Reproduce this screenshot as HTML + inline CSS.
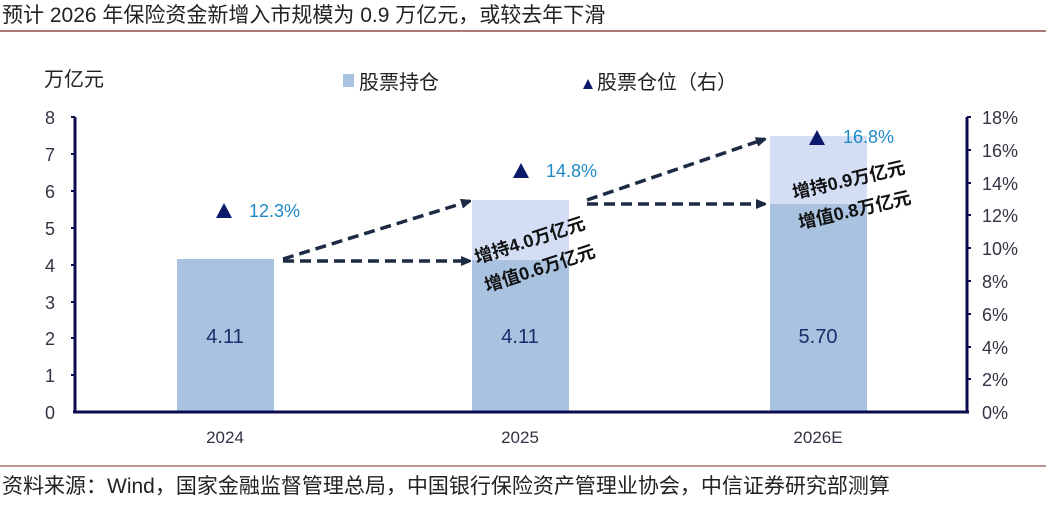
<!DOCTYPE html>
<html><head><meta charset="utf-8"><style>
body{margin:0;background:#fff;}
svg text{font-family:"Liberation Sans","Noto Sans CJK SC",sans-serif;}
</style></head><body>
<svg width="1046" height="502" viewBox="0 0 1046 502" xmlns="http://www.w3.org/2000/svg">
<defs><marker id="ah" markerWidth="10" markerHeight="10" refX="9" refY="5" orient="auto" markerUnits="userSpaceOnUse"><path d="M0,0 L12,5 L0,10 z" fill="#1c2a44"/></marker></defs>
<text x="2" y="22" font-size="21" fill="#222">预计 2026 年保险资金新增入市规模为 0.9 万亿元，或较去年下滑</text>
<line x1="0" y1="31" x2="1046" y2="31" stroke="#7a2a2a" stroke-width="1.2"/>
<text x="44" y="86" font-size="20" fill="#222">万亿元</text>
<rect x="343" y="74" width="11" height="13" fill="#a9c2e0"/>
<text x="359" y="89" font-size="20" fill="#222">股票持仓</text>
<path d="M583,89 L588,79 L593,89z" fill="#0b1a6b"/>
<text x="597" y="89" font-size="20" fill="#222">股票仓位（右）</text>
<rect x="177" y="259" width="97" height="153" fill="#a9c2e0"/>
<rect x="472" y="200" width="97" height="60" fill="#d3def5"/>
<rect x="472" y="260" width="97" height="152" fill="#a9c2e0"/>
<rect x="770" y="136" width="97" height="68" fill="#d3def5"/>
<rect x="770" y="204" width="97" height="208" fill="#a9c2e0"/>
<g font-size="20" fill="#1a2c6a" text-anchor="middle">
<text x="225" y="343">4.11</text><text x="520" y="343">4.11</text><text x="818" y="343">5.70</text></g>
<g stroke="#0b0b50" stroke-width="3">
<line x1="75" y1="117" x2="75" y2="413"/>
<line x1="967" y1="117" x2="967" y2="413"/>
<line x1="73" y1="412" x2="969" y2="412"/>
</g>
<g stroke="#0b0b50" stroke-width="2">
<line x1="71" y1="117" x2="75" y2="117"/><line x1="71" y1="154" x2="75" y2="154"/><line x1="71" y1="191" x2="75" y2="191"/><line x1="71" y1="228" x2="75" y2="228"/><line x1="71" y1="265" x2="75" y2="265"/><line x1="71" y1="302" x2="75" y2="302"/><line x1="71" y1="338" x2="75" y2="338"/><line x1="71" y1="375" x2="75" y2="375"/>
<line x1="967" y1="117" x2="971" y2="117"/><line x1="967" y1="150" x2="971" y2="150"/><line x1="967" y1="183" x2="971" y2="183"/><line x1="967" y1="215" x2="971" y2="215"/><line x1="967" y1="248" x2="971" y2="248"/><line x1="967" y1="281" x2="971" y2="281"/><line x1="967" y1="314" x2="971" y2="314"/><line x1="967" y1="347" x2="971" y2="347"/><line x1="967" y1="379" x2="971" y2="379"/>
</g>
<g font-size="18" fill="#334" text-anchor="end">
<text x="55" y="124">8</text><text x="55" y="161">7</text><text x="55" y="198">6</text><text x="55" y="235">5</text><text x="55" y="272">4</text><text x="55" y="309">3</text><text x="55" y="345">2</text><text x="55" y="382">1</text><text x="55" y="419">0</text>
</g>
<g font-size="18" fill="#334">
<text x="982" y="124">18%</text><text x="982" y="157">16%</text><text x="982" y="190">14%</text><text x="982" y="222">12%</text><text x="982" y="255">10%</text><text x="982" y="288">8%</text><text x="982" y="321">6%</text><text x="982" y="354">4%</text><text x="982" y="386">2%</text><text x="982" y="419">0%</text>
</g>
<g font-size="17" fill="#334" text-anchor="middle">
<text x="225" y="443">2024</text><text x="520" y="443">2025</text><text x="818" y="443">2026E</text></g>
<g fill="#0b1a6b">
<path d="M216,218 L224,203 L232,218z"/><path d="M513,178 L521,163 L529,178z"/><path d="M809,145 L817,130 L825,145z"/></g>
<g font-size="18" fill="#1e8ac8">
<text x="249" y="217">12.3%</text><text x="546" y="177">14.8%</text><text x="843" y="143">16.8%</text></g>
<g stroke="#1c2a44" stroke-width="3.5" stroke-dasharray="11,6" fill="none" marker-end="url(#ah)">
<line x1="283" y1="259" x2="470" y2="201"/>
<line x1="283" y1="261" x2="470" y2="261"/>
<line x1="587" y1="200" x2="765" y2="139"/>
<line x1="587" y1="204" x2="765" y2="204"/>
</g>
<g font-size="18" font-weight="bold" fill="#111">
<text transform="translate(477,264) rotate(-18)">增持4.0万亿元</text>
<text transform="translate(487,292) rotate(-18)">增值0.6万亿元</text>
<text transform="translate(794,199) rotate(-13)">增持0.9万亿元</text>
<text transform="translate(800,229) rotate(-13)">增值0.8万亿元</text>
</g>
<line x1="0" y1="466" x2="1046" y2="466" stroke="#7a2a2a" stroke-width="1"/>
<text x="2" y="493" font-size="21" fill="#222">资料来源：Wind，国家金融监督管理总局，中国银行保险资产管理业协会，中信证券研究部测算</text>
</svg>
</body></html>
